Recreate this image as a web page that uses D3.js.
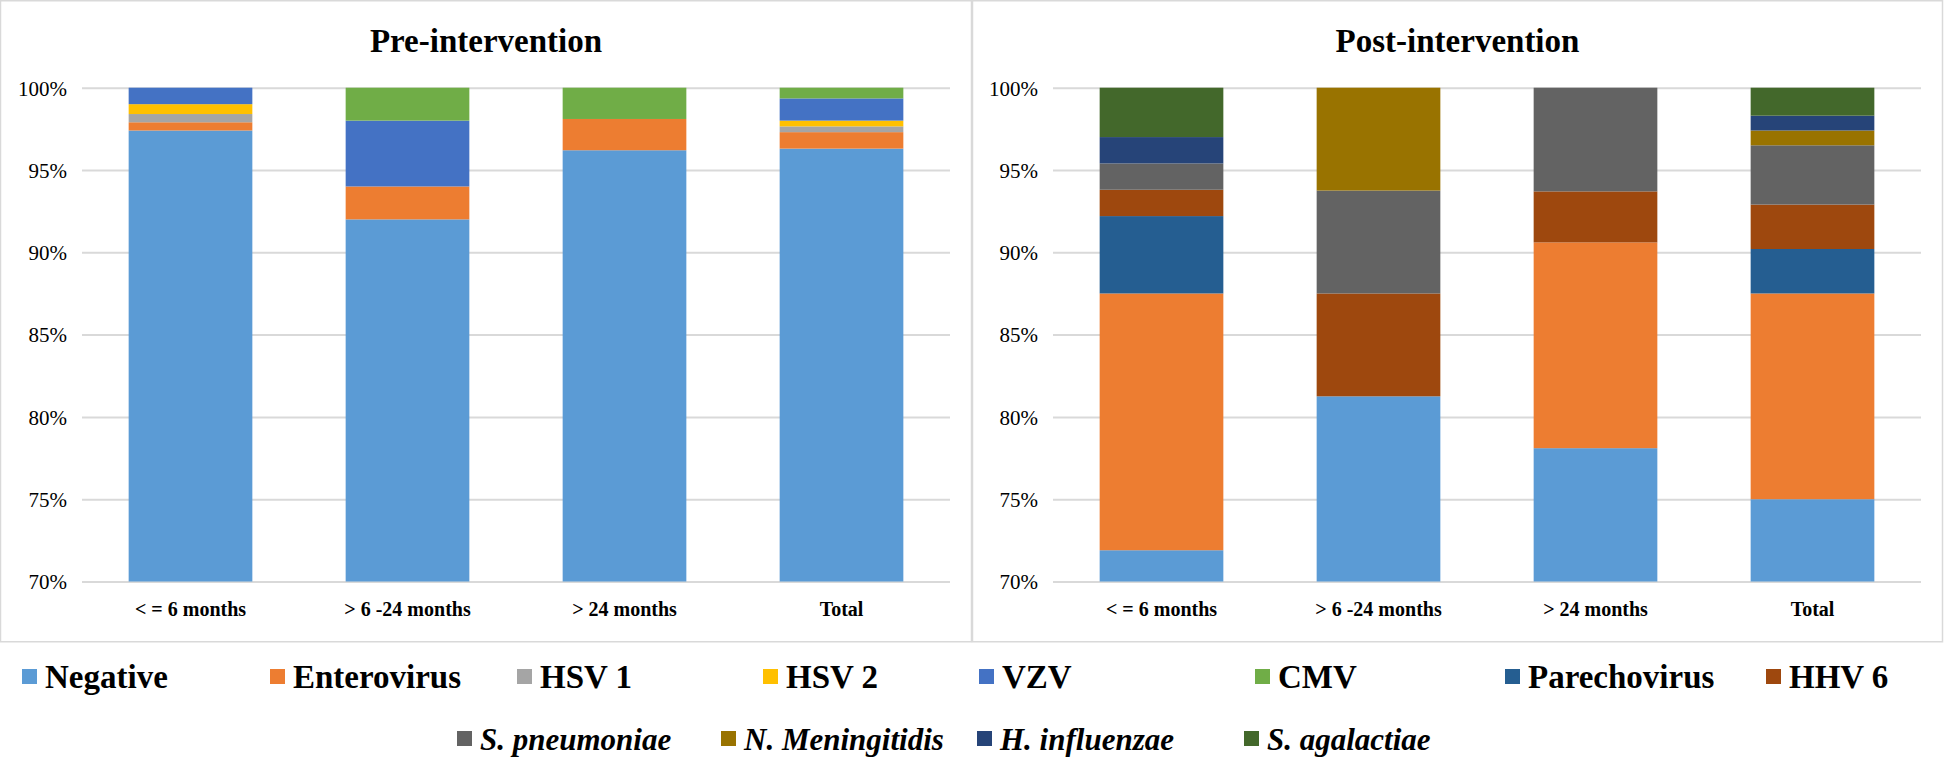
<!DOCTYPE html>
<html>
<head>
<meta charset="utf-8">
<script src="https://cdn.jsdelivr.net/npm/d3@7"></script>
<style>
  html, body { margin: 0; padding: 0; background: #fff; }
  svg { display: block; }
  text { font-family: "Times New Roman", "Liberation Serif", serif; fill: #000; }
</style>
</head>
<body>
<svg id="chart" width="1944" height="759"></svg>
<script>
// ---------------- DATA ----------------
const categories = ["< = 6 months", "> 6 -24 months", "> 24 months", "Total"];
const yTicks = [0.70, 0.75, 0.80, 0.85, 0.90, 0.95, 1.00];

// Pre-intervention (% of samples)
const preNegative    = [97.4, 92.0, 96.2, 96.3];
const preEnterovirus = [0.5, 2.0, 1.9, 1.0];
const preHSV1        = [0.5, 0, 0, 0.35];
const preHSV2        = [0.6, 0, 0, 0.35];
const preVZV         = [1.0, 4.0, 0, 1.35];
const preCMV         = [0, 2.0, 1.9, 0.65];

// Post-intervention (% of samples)
const postNegative       = [71.9, 81.25, 78.1, 75.0];
const postEnterovirus    = [15.6, 0, 12.5, 12.5];
const postParechovirus   = [4.7, 0, 0, 2.7];
const postHHV6           = [1.6, 6.25, 3.1, 2.7];
const postSPneumoniae    = [1.6, 6.25, 6.3, 3.6];
const postNMeningitidis  = [0, 6.25, 0, 0.9];
const postHInfluenzae    = [1.6, 0, 0, 0.9];
const postSAgalactiae    = [3.0, 0, 0, 1.7];

const legendRow1 = ["Negative", "Enterovirus", "HSV 1", "HSV 2", "VZV", "CMV", "Parechovirus", "HHV 6"];
const legendRow2 = ["S. pneumoniae", "N. Meningitidis", "H. influenzae", "S. agalactiae"];

const seriesColors = {
  "Negative": "#5B9BD5", "Enterovirus": "#ED7D31", "HSV 1": "#A5A5A5", "HSV 2": "#FFC000",
  "VZV": "#4472C4", "CMV": "#70AD47", "Parechovirus": "#255E91", "HHV 6": "#9E480E",
  "S. pneumoniae": "#636363", "N. Meningitidis": "#997300", "H. influenzae": "#264478",
  "S. agalactiae": "#43682B"
};

const preSeries = [
  ["Negative", preNegative], ["Enterovirus", preEnterovirus], ["HSV 1", preHSV1],
  ["HSV 2", preHSV2], ["VZV", preVZV], ["CMV", preCMV]
];
const postSeries = [
  ["Negative", postNegative], ["Enterovirus", postEnterovirus], ["Parechovirus", postParechovirus],
  ["HHV 6", postHHV6], ["S. pneumoniae", postSPneumoniae], ["N. Meningitidis", postNMeningitidis],
  ["H. influenzae", postHInfluenzae], ["S. agalactiae", postSAgalactiae]
];

// ---------------- DRAW ----------------
const svg = d3.select("#chart");

function drawPanel(opts) {
  const g = svg.append("g");
  // panel border
  g.append("rect")
    .attr("x", opts.px0 + 0.5).attr("y", 0.75)
    .attr("width", opts.px1 - opts.px0 - 1).attr("height", 641)
    .attr("fill", "none").attr("stroke", "#d9d9d9").attr("stroke-width", 1.5);

  g.append("text")
    .attr("x", (opts.px0 + opts.px1) / 2).attr("y", 52)
    .attr("text-anchor", "middle")
    .style("font-size", "33px").style("font-weight", "bold")
    .text(opts.title);

  const x = d3.scaleBand().domain(categories)
    .range([opts.x0, opts.x1]).paddingInner(0.43).paddingOuter(0.215);
  const y = d3.scaleLinear().domain([0.70, 1.00]).range([581.5, 87.7]).clamp(true);

  // gridlines
  const yAxis = d3.axisLeft(y).tickValues(yTicks)
    .tickSize(-(opts.x1 - opts.x0)).tickFormat(d3.format(".0%")).tickPadding(15);
  const ya = g.append("g").attr("transform", `translate(${opts.x0},0)`).call(yAxis);
  ya.select(".domain").remove();
  ya.selectAll(".tick line").attr("stroke", "#d9d9d9").attr("stroke-width", 2);
  ya.selectAll(".tick text")
    .style("font-size", "21px")
    .style("font-family", '"Times New Roman", "Liberation Serif", serif')
    .attr("fill", "#000").attr("dy", "0.35em");

  // stacked bars
  const rows = categories.map((c, i) => {
    const r = { cat: c };
    opts.series.forEach(([name, arr]) => { r[name] = arr[i] / 100; });
    return r;
  });
  const keys = opts.series.map(s => s[0]);
  const stacked = d3.stack().keys(keys)(rows);
  g.append("g").selectAll("g").data(stacked).join("g")
    .attr("fill", d => seriesColors[d.key])
    .selectAll("rect").data(d => d.filter(p => p[1] - p[0] > 0)).join("rect")
    .attr("x", d => x(d.data.cat))
    .attr("width", x.bandwidth())
    .attr("y", d => y(d[1]))
    .attr("height", d => y(d[0]) - y(d[1]));

  // x labels
  const xAxis = d3.axisBottom(x).tickSize(0).tickPadding(20);
  const xa = g.append("g").attr("transform", `translate(0,${581.5})`).call(xAxis);
  xa.select(".domain").remove();
  xa.selectAll(".tick text")
    .style("font-size", "20px").style("font-weight", "bold")
    .style("font-family", '"Times New Roman", "Liberation Serif", serif')
    .attr("fill", "#000");
}

drawPanel({ title: "Pre-intervention", px0: 0, px1: 972, x0: 82, x1: 950, series: preSeries });
drawPanel({ title: "Post-intervention", px0: 972, px1: 1943, x0: 1053, x1: 1921, series: postSeries });

// legend
const legendX1 = [22, 270, 517, 763, 979, 1255, 1505, 1766];
const legendX2 = [457, 721, 977, 1244];
function drawLegend(names, xs, baseline, italic, size) {
  const lg = svg.append("g").selectAll("g").data(names).join("g")
    .attr("transform", (d, i) => `translate(${xs[i]},${baseline})`);
  lg.append("rect").attr("x", 0).attr("y", -19).attr("width", 15).attr("height", 15)
    .attr("fill", d => seriesColors[d]);
  lg.append("text").attr("x", 23).attr("y", 0)
    .style("font-size", size + "px").style("font-weight", "bold")
    .style("font-style", italic ? "italic" : "normal")
    .text(d => d);
}
drawLegend(legendRow1, legendX1, 688, false, 33);
drawLegend(legendRow2, legendX2, 750, true, 31);
</script>
</body>
</html>
